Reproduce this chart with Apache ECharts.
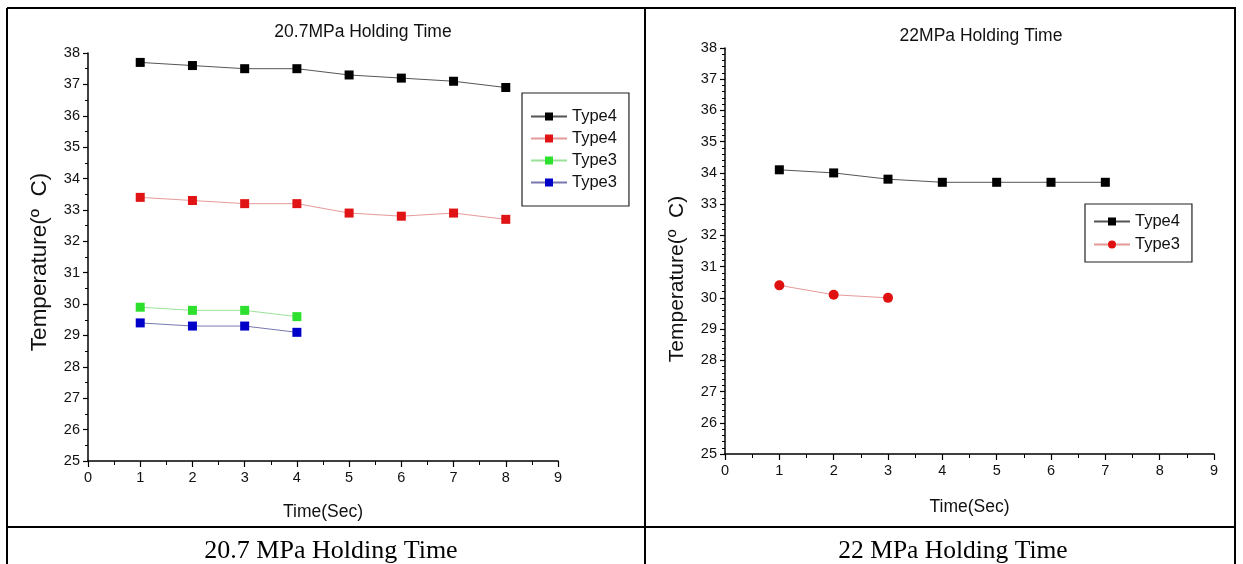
<!DOCTYPE html>
<html>
<head>
<meta charset="utf-8">
<script src="https://cdn.jsdelivr.net/npm/echarts@6/dist/echarts.min.js"></script>
<style>
html,body{margin:0;padding:0;background:#fff;}
#c{width:1243px;height:564px;}
</style>
</head>
<body>
<div id="c"></div>
<script>
// ---- data ----
var timeLeft = [1, 2, 3, 4, 5, 6, 7, 8];
var leftType4Black = [37.7, 37.6, 37.5, 37.5, 37.3, 37.2, 37.1, 36.9];
var leftType4Red = [33.4, 33.3, 33.2, 33.2, 32.9, 32.8, 32.9, 32.7];
var leftType3Green = [29.9, 29.8, 29.8, 29.6];
var leftType3Blue = [29.4, 29.3, 29.3, 29.1];
var timeRight = [1, 2, 3, 4, 5, 6, 7];
var rightType4 = [34.1, 34.0, 33.8, 33.7, 33.7, 33.7, 33.7];
var rightType3 = [30.4, 30.1, 30.0];
var leftTitle = "20.7MPa Holding Time";
var rightTitle = "22MPa Holding Time";
var leftCaption = "20.7 MPa Holding Time";
var rightCaption = "22 MPa Holding Time";
var xName = "Time(Sec)";
var yName = "Temperature(\u00ba  C)";

function pairs(xs, ys) { return ys.map(function (v, i) { return [xs[i], v]; }); }

var chart = echarts.init(document.getElementById('c'), null, {renderer: 'canvas'});
var font = 'Liberation Sans, Arial, sans-serif';
var serif = 'Liberation Serif, Times New Roman, serif';

function xAxisCfg(gi, gap) {
  return {
    gridIndex: gi, type: 'value', min: 0, max: 9, interval: 1,
    name: xName, nameLocation: 'middle', nameGap: gap,
    nameTextStyle: {fontFamily: font, fontSize: 17.5, color: '#111'},
    axisLine: {show: true, onZero: false, lineStyle: {color: '#000', width: 1.5}},
    axisTick: {show: true, length: 6, lineStyle: {color: '#000', width: 1.2}},
    minorTick: {show: true, splitNumber: 2, length: 4, lineStyle: {color: '#000', width: 1}},
    axisLabel: {fontFamily: font, fontSize: 14.5, color: '#111', margin: 9},
    splitLine: {show: false}, minorSplitLine: {show: false}
  };
}
function yAxisCfg(gi, gap, minorSplit, nameSize, namePad) {
  return {
    gridIndex: gi, type: 'value', min: 25, max: 38, interval: 1,
    name: yName, nameLocation: 'middle', nameGap: gap, nameRotate: 90,
    nameTextStyle: {fontFamily: font, fontSize: nameSize, color: '#111', padding: namePad},
    axisLine: {show: true, onZero: false, lineStyle: {color: '#000', width: 1.5}},
    axisTick: {show: true, length: 5, lineStyle: {color: '#000', width: 1.2}},
    minorTick: {show: true, splitNumber: minorSplit, length: 3, lineStyle: {color: '#000', width: 1}},
    axisLabel: {fontFamily: font, fontSize: 14.5, color: '#111', margin: 8},
    splitLine: {show: false}, minorSplitLine: {show: false}
  };
}
function lineSeries(name, xi, data, symbol, color, lineColor, size) {
  return {
    name: name, type: 'line', xAxisIndex: xi, yAxisIndex: xi,
    data: data, symbol: symbol, symbolSize: size,
    itemStyle: {color: color},
    lineStyle: {color: lineColor, width: 1},
    animation: false
  };
}

var legendFmt = function (n) { return n.split('#')[0]; };

var option = {
  backgroundColor: '#fff',
  animation: false,
  title: [
    {text: leftTitle, left: 358, top: 18, textAlign: 'center',
     textStyle: {fontFamily: font, fontSize: 17.5, fontWeight: 'normal', color: '#111'}},
    {text: rightTitle, left: 976, top: 22, textAlign: 'center',
     textStyle: {fontFamily: font, fontSize: 17.5, fontWeight: 'normal', color: '#111'}},
    {text: leftCaption, left: 326, top: 533, textAlign: 'center',
     textStyle: {fontFamily: serif, fontSize: 26, fontWeight: 'normal', color: '#000'}},
    {text: rightCaption, left: 948, top: 533, textAlign: 'center',
     textStyle: {fontFamily: serif, fontSize: 25.5, fontWeight: 'normal', color: '#000'}}
  ],
  grid: [
    {left: 88, top: 53, width: 470, height: 408},
    {left: 725, top: 48, width: 489, height: 406}
  ],
  xAxis: [xAxisCfg(0, 42), xAxisCfg(1, 44)],
  yAxis: [yAxisCfg(0, 37, 2, 22.5, [0, 10, 0, 0]), yAxisCfg(1, 37, 5, 21, [0, 56, 0, 0])],
  legend: [
    {data: ['Type4#a', 'Type4#b', 'Type3#c', 'Type3#d'], orient: 'vertical',
     left: 522, top: 93, padding: [15, 12, 15, 8], itemGap: 5,
     itemWidth: 36, itemHeight: 10, borderColor: '#222', borderWidth: 1.2,
     formatter: legendFmt, textStyle: {fontFamily: font, fontSize: 16.5, color: '#111'}},
    {data: ['Type4#e', 'Type3#f'], orient: 'vertical',
     left: 1085, top: 204, padding: [9, 12, 9, 8], itemGap: 6,
     itemWidth: 36, itemHeight: 10, borderColor: '#222', borderWidth: 1.2,
     formatter: legendFmt, textStyle: {fontFamily: font, fontSize: 16.5, color: '#111'}}
  ],
  series: [
    lineSeries('Type4#a', 0, pairs(timeLeft, leftType4Black), 'rect', '#000', '#555', 9),
    lineSeries('Type4#b', 0, pairs(timeLeft, leftType4Red), 'rect', '#e01414', '#e59a9a', 9),
    lineSeries('Type3#c', 0, pairs(timeLeft, leftType3Green), 'rect', '#2ee02e', '#9ae29a', 9),
    lineSeries('Type3#d', 0, pairs(timeLeft, leftType3Blue), 'rect', '#0000c8', '#7878b0', 9),
    lineSeries('Type4#e', 1, pairs(timeRight, rightType4), 'rect', '#000', '#555', 9),
    lineSeries('Type3#f', 1, pairs(timeRight, rightType3), 'circle', '#e01010', '#e59a9a', 10)
  ],
  graphic: [
    {type: 'line', shape: {x1: 7, y1: 8, x2: 1236, y2: 8}, style: {stroke: '#000', lineWidth: 2}},
    {type: 'line', shape: {x1: 7, y1: 8, x2: 7, y2: 564}, style: {stroke: '#000', lineWidth: 2}},
    {type: 'line', shape: {x1: 645, y1: 8, x2: 645, y2: 564}, style: {stroke: '#000', lineWidth: 2}},
    {type: 'line', shape: {x1: 1235, y1: 8, x2: 1235, y2: 564}, style: {stroke: '#000', lineWidth: 2}},
    {type: 'line', shape: {x1: 7, y1: 527, x2: 1236, y2: 527}, style: {stroke: '#000', lineWidth: 2}}
  ]
};
chart.setOption(option);
</script>
</body>
</html>
